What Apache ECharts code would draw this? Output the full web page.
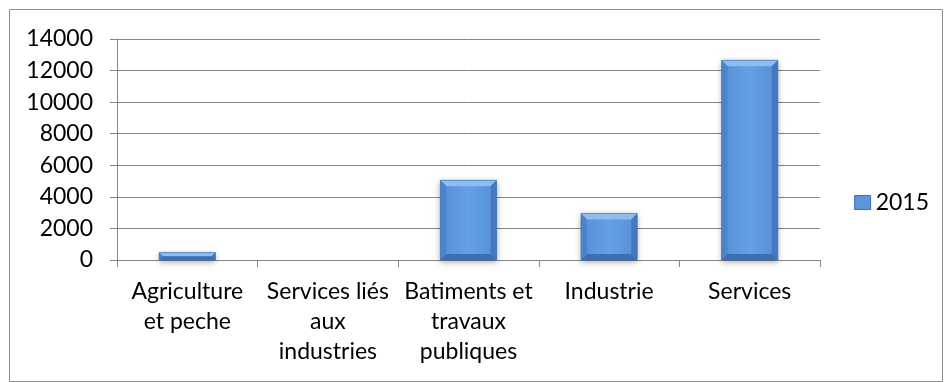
<!DOCTYPE html>
<html>
<head>
<meta charset="utf-8">
<script src="https://cdn.jsdelivr.net/npm/echarts@6/dist/echarts.min.js"></script>
<style>
  html, body { margin: 0; padding: 0; background: #fff; }
  #chart { width: 948px; height: 382px; }
</style>
</head>
<body>
<div id="chart"></div>
<script>
// Employment by sector, 2015
const categories = [
  'Agriculture\net peche',
  'Services liés\naux\nindustries',
  'Batiments et\ntravaux\npubliques',
  'Industrie',
  'Services'
];
const seriesName = '2015';
const values2015 = [470, 0, 5050, 2950, 12650];
const yTicks = { min: 0, max: 14000, interval: 2000 };

const chart = echarts.init(document.getElementById('chart'));
const font = 'Lato, "Open Sans", sans-serif';
const BAR_RATIO = 0.4;

// bevelled column: flat face plus four sloped edges
function renderBevelBar(params, api) {
  const idx = api.value(0);
  const val = api.value(1);
  const top = api.coord([idx, val]);
  const base = api.coord([idx, 0]);
  const w = api.size([1, 0])[0] * BAR_RATIO;
  const l = top[0] - w / 2, r = l + w;
  const t = top[1], b = base[1];
  const h = b - t;
  if (h <= 0.5) return { type: 'group', children: [] };
  const e = Math.min(6, h / 2, w / 4);
  const face = new echarts.graphic.LinearGradient(0, 0, 1, 0, [
    { offset: 0, color: '#5a92da' },
    { offset: 0.5, color: '#64a0e6' },
    { offset: 1, color: '#5a92da' }
  ]);
  return {
    type: 'group',
    children: [
      { type: 'rect', shape: { x: l, y: t, width: w, height: h },
        style: { fill: '#5b95dc', shadowColor: 'rgba(0,0,0,0.35)', shadowBlur: 6, shadowOffsetY: 2 } },
      { type: 'rect', shape: { x: l + e, y: t + e, width: w - 2 * e, height: Math.max(0, h - 2 * e) },
        style: { fill: face } },
      { type: 'polygon', shape: { points: [[l, t], [r, t], [r - e, t + e], [l + e, t + e]] },
        style: { fill: '#8dbdf0' } },
      { type: 'polygon', shape: { points: [[l, t], [l + e, t + e], [l + e, b - e], [l, b]] },
        style: { fill: '#4c84cc' } },
      { type: 'polygon', shape: { points: [[r, t], [r, b], [r - e, b - e], [r - e, t + e]] },
        style: { fill: '#4578c0' } },
      { type: 'polygon', shape: { points: [[l, b], [l + e, b - e], [r - e, b - e], [r, b]] },
        style: { fill: '#3f6fb2' } },
      { type: 'rect', shape: { x: l, y: t, width: w, height: h },
        style: { fill: 'none', stroke: '#3d6fb4', lineWidth: 0.6 } }
    ]
  };
}

chart.setOption({
  animation: false,
  textStyle: { fontFamily: font },
  graphic: [{
    type: 'rect',
    shape: { x: 9.5, y: 9.5, width: 933, height: 372 },
    style: { fill: 'none', stroke: '#8c8c8c', lineWidth: 1 },
    silent: true
  }],
  grid: { left: 117, right: 128, top: 39, bottom: 122 },
  legend: {
    data: [{ name: seriesName, icon: 'rect', itemStyle: { color: '#5b95dc', borderColor: '#3d6fb4', borderWidth: 1 } }],
    right: 14, top: 186,
    itemWidth: 16, itemHeight: 14, itemGap: 6,
    textStyle: { fontSize: 23, color: '#000', fontFamily: font }
  },
  xAxis: {
    type: 'category',
    data: categories,
    axisLine: { lineStyle: { color: '#868686', width: 1 } },
    axisTick: { show: true, length: 7, lineStyle: { color: '#868686' } },
    axisLabel: {
      interval: 0, color: '#000', fontSize: 23, lineHeight: 30,
      margin: 17, fontFamily: font
    }
  },
  yAxis: {
    type: 'value',
    min: yTicks.min, max: yTicks.max, interval: yTicks.interval,
    axisLine: { show: true, lineStyle: { color: '#868686' } },
    axisTick: { show: true, length: 7, lineStyle: { color: '#868686' } },
    splitLine: { lineStyle: { color: '#868686', width: 1 } },
    axisLabel: {
      color: '#000', fontSize: 23, margin: 24, fontFamily: font,
      formatter: v => String(v)
    }
  },
  series: [{
    name: seriesName,
    type: 'custom',
    renderItem: renderBevelBar,
    encode: { x: 0, y: 1 },
    itemStyle: { color: '#5b95dc' },
    data: values2015.map((v, i) => [i, v])
  }]
});
</script>
</body>
</html>
